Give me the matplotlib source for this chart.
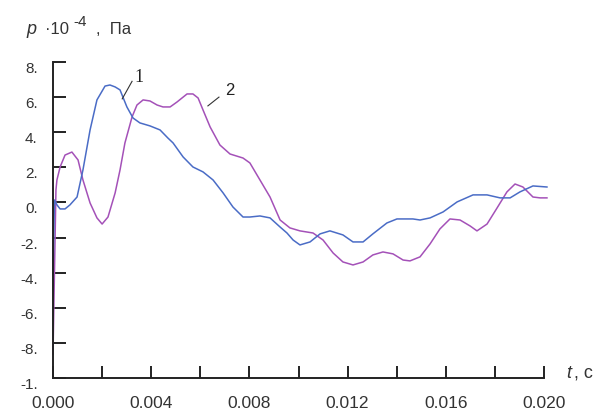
"""
pressure pulsations p(t) at two points
"""

import matplotlib.pyplot as plt
from matplotlib.transforms import ScaledTranslation

# time, ms
t1 = [0.0, 0.06, 0.16, 0.29, 0.49, 0.69, 0.98, 1.22, 1.51, 1.79, 2.12, 2.32, 2.53, 2.73,
      3.01, 3.26, 3.54, 3.95, 4.36, 4.68, 4.89, 5.30, 5.70, 6.11, 6.52, 6.93, 7.33, 7.74,
      8.02, 8.43, 8.84, 9.25, 9.53, 9.78, 10.06, 10.47, 10.88, 11.28, 11.81, 12.22, 12.63,
      13.03, 13.60, 14.01, 14.66, 14.95, 15.36, 15.89, 16.46, 17.11, 17.68, 18.21, 18.62,
      19.02, 19.55, 20.12]
p1 = [-4.1, 0.14, -0.14, -0.37, -0.37, -0.14, 0.31, 1.85, 4.13, 5.84, 6.63, 6.69, 6.58, 6.41,
      5.44, 4.81, 4.53, 4.36, 4.13, 3.67, 3.39, 2.59, 2.02, 1.74, 1.28, 0.54, -0.26, -0.83,
      -0.83, -0.77, -0.88, -1.40, -1.74, -2.14, -2.42, -2.25, -1.79, -1.62, -1.85, -2.25, -2.25,
      -1.79, -1.17, -0.94, -0.94, -1.00, -0.88, -0.54, 0.03, 0.43, 0.43, 0.26, 0.26,
      0.60, 0.94, 0.88]

t2 = [0.0, 0.12, 0.16, 0.29, 0.49, 0.77, 1.02, 1.22, 1.51, 1.79, 2.00, 2.24, 2.53, 2.73,
      2.93, 3.22, 3.42, 3.67, 3.95, 4.24, 4.48, 4.77, 5.05, 5.46, 5.70, 5.91, 6.11, 6.40,
      6.80, 7.21, 7.74, 8.02, 8.43, 8.84, 9.25, 9.65, 10.06, 10.59, 11.00, 11.41, 11.81,
      12.22, 12.63, 13.03, 13.44, 13.85, 14.26, 14.54, 14.95, 15.36, 15.76, 16.17, 16.58,
      16.99, 17.27, 17.68, 18.09, 18.49, 18.82, 19.14, 19.55, 19.84, 20.12]
p2 = [-8.63, 0.71, 1.28, 2.02, 2.70, 2.87, 2.42, 1.28, -0.03, -0.88, -1.23, -0.83, 0.54, 1.85,
      3.39, 4.87, 5.55, 5.84, 5.78, 5.55, 5.44, 5.44, 5.72, 6.18, 6.18, 5.95, 5.27, 4.30,
      3.27, 2.76, 2.53, 2.25, 1.28, 0.31, -1.00, -1.45, -1.62, -1.74, -2.14, -2.88, -3.39,
      -3.56, -3.39, -2.99, -2.82, -2.93, -3.28, -3.33, -3.10, -2.36, -1.51, -0.94, -1.00,
      -1.34, -1.62, -1.23, -0.31, 0.60, 1.05, 0.88, 0.31, 0.26, 0.26]

x_ticks = [0.000, 0.002, 0.004, 0.006, 0.008, 0.010, 0.012, 0.014, 0.016, 0.018, 0.020]
x_labels = ['0.000', '', '0.004', '', '0.008', '', '0.012', '', '0.016', '', '0.020']
y_ticks = [8, 6, 4, 2, 0, -2, -4, -6, -8, -10]
y_labels = ['8.', '6.', '4.', '2.', '0.', '-2.', '-4.', '-6.', '-8.', '-1.']

W, H = 614, 413
fig = plt.figure(figsize=(W / 100, H / 100), dpi=100)
ax = fig.add_axes([53 / W, (H - 378) / H, (544 - 53) / W, (378 - 62) / H])

ax.plot([t / 1000 for t in t2], p2, color='#a451b8', lw=1.1, clip_on=False)
ax.plot([t / 1000 for t in t1], p1, color='#4a6cc6', lw=1.1, clip_on=False)

ax.set_xlim(0, 0.020)
ax.set_ylim(-10, 8)
for s in ['top', 'right']:
    ax.spines[s].set_visible(False)
for s in ['left', 'bottom']:
    ax.spines[s].set_linewidth(1.4)
    ax.spines[s].set_color('#222222')

ax.set_xticks(x_ticks)
ax.set_xticklabels(x_labels, family='Liberation Sans', size=12.5, color='#333333')
ax.set_yticks(y_ticks)
ax.set_yticklabels(y_labels, family='Liberation Sans', size=11, color='#333333')
ax.tick_params(axis='both', direction='in', length=9, width=1.4, color='#222222')
ax.tick_params(axis='x', pad=13)
ax.tick_params(axis='y', pad=11)

# y labels sit a little below their ticks
shift = ScaledTranslation(0, -4 / 72, fig.dpi_scale_trans)
for lab in ax.get_yticklabels():
    lab.set_transform(lab.get_transform() + shift)

# curve numbers with leader lines
ax.plot([0.00282, 0.00322], [5.9, 6.9], color='#333333', lw=0.8)
ax.text(0.00332, 7.1, '1', fontsize=13, family='Liberation Serif', color='#222222',
        va='center', ha='left')
ax.plot([0.00631, 0.00676], [5.5, 6.0], color='#333333', lw=0.8)
ax.text(0.00700, 6.35, '2', fontsize=12, family='Liberation Sans', color='#222222',
        va='center', ha='left')

# axis names
txt = dict(family='Liberation Sans', color='#333333', va='center')
fig.text(26 / W, 1 - 30 / H, 'p', fontsize=13, style='italic', **txt)
fig.text(45 / W, 1 - 30 / H, '·10', fontsize=12, **txt)
fig.text(73 / W, 1 - 22 / H, '-4', fontsize=11, **txt)
fig.text(96 / W, 1 - 30 / H, ',  Па', fontsize=12, **txt)
fig.text(566 / W, 1 - 373 / H, 't', fontsize=13, style='italic', **txt)
fig.text(574 / W, 1 - 373 / H, ', c', fontsize=13, **txt)

plt.savefig('out.png', dpi=100)
